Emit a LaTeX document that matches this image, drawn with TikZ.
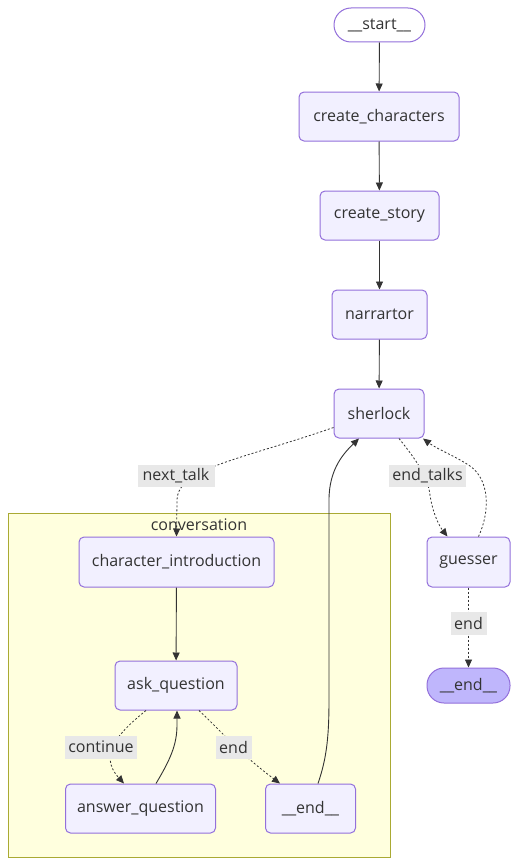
\documentclass[tikz,border=0pt]{standalone}
\usepackage{fontspec}
\setmainfont{Open Sans}
\usetikzlibrary{arrows.meta}
\definecolor{txt}{HTML}{333333}
\definecolor{nfill}{HTML}{F2F0FF}
\definecolor{nstroke}{HTML}{9370DB}
\definecolor{endfill}{HTML}{BFB6FC}
\definecolor{clfill}{HTML}{FFFFDE}
\definecolor{clstroke}{HTML}{AAAA33}
\definecolor{lblbg}{HTML}{E8E8E8}
\definecolor{edge}{HTML}{333333}
\begin{document}
\begin{tikzpicture}[x=1pt,y=1pt,
  font=\fontsize{16}{19}\selectfont, text=txt,
  box/.style={draw=nstroke, fill=nfill, line width=1pt, rounded corners=5pt, inner sep=0pt, align=center},
  pill/.style={draw=nstroke, line width=1pt, rounded corners=17pt, inner sep=0pt},
  lbl/.style={fill=lblbg, inner sep=0pt, text=txt},
  solidedge/.style={draw=edge, line width=0.9pt, -{Triangle[length=8pt,width=7pt]}},
  dotedge/.style={draw=edge, line width=0.8pt, dash pattern=on 2pt off 2pt, -{Triangle[length=8pt,width=7pt]}}
]
\useasboundingbox (0,0) rectangle (518,-867);
\fill[white] (0,0) rectangle (518,-867);

% cluster
\node[draw=clstroke, fill=clfill, line width=1pt, minimum width=382pt, minimum height=344pt, inner sep=0pt] (cluster) at (199,-685) {};
\node (cltitle) at (199,-524.5) {conversation};

% nodes
\node[pill, fill=white, minimum width=91pt, minimum height=34pt] (start) at (379.5,-25) {\_\_start\_\_};
\node[box, minimum width=160pt, minimum height=49pt] (cc) at (379,-116.5) {create\_characters};
\node[box, minimum width=119pt, minimum height=49pt] (cs) at (379.5,-215.5) {create\_story};
\node[box, minimum width=95pt, minimum height=49pt] (nar) at (379.5,-314.5) {narrartor};
\node[box, minimum width=90pt, minimum height=49pt] (sher) at (379,-413.5) {sherlock};
\node[box, minimum width=83pt, minimum height=50pt] (gue) at (468.5,-562) {guesser};
\node[pill, fill=endfill, minimum width=83pt, minimum height=35pt] (fend) at (468.5,-685.5) {\_\_end\_\_};
\node[box, minimum width=195pt, minimum height=50pt] (ci) at (176.5,-562) {character\_introduction};
\node[box, minimum width=122pt, minimum height=49pt] (ask) at (176,-685.5) {ask\_question};
\node[box, minimum width=150pt, minimum height=49pt] (ans) at (140.5,-808.5) {answer\_question};
\node[box, minimum width=90pt, minimum height=49pt] (iend) at (310.5,-808.5) {\_\_end\_\_};

% straight edges
\draw[solidedge] (start) -- (cc);
\draw[solidedge] (cc) -- (cs);
\draw[solidedge] (cs) -- (nar);
\draw[solidedge] (nar) -- (sher);
\draw[solidedge] (ci) -- (ask);
\draw[dotedge] (gue) -- (fend);

% curved edges
\draw[dotedge] ([yshift=11pt]sher.south west) .. controls (240,-460) and (178,-468) .. (177,-500) -- (ci.north);
\draw[dotedge] ([xshift=20pt]sher.south) .. controls (418,-462) and (428,-478) .. (430,-495) .. controls (433,-515) and (440,-527) .. ([xshift=-21pt]gue.north);
\draw[dotedge] ([xshift=10pt]gue.north) .. controls (490,-512) and (490,-480) .. (470,-466) .. controls (455,-456) and (437,-449) .. ([xshift=44pt]sher.south);
\draw[dotedge] ([xshift=-30pt]ask.south) .. controls (118,-733) and (98,-755) .. ([xshift=-16.5pt]ans.north);
\draw[solidedge] ([xshift=15.5pt]ans.north) .. controls (170,-760) and (177,-745) .. (177,-725) -- ([xshift=1pt]ask.south);
\draw[dotedge] ([xshift=23pt]ask.south) .. controls (222,-732) and (238,-752) .. ([xshift=-30.5pt]iend.north);
\draw[solidedge] ([xshift=7.5pt]iend.north) .. controls (326,-760) and (329,-740) .. (329,-700) -- (329,-500) .. controls (329,-468) and (345,-452) .. ([xshift=-20pt]sher.south);

% edge labels
\node[lbl, minimum width=77pt, minimum height=22pt] (l1) at (176,-476) {next\_talk};
\node[lbl, minimum width=77pt, minimum height=22pt] (l2) at (427.5,-476) {end\_talks};
\node[lbl, minimum width=36pt, minimum height=23pt] (l3) at (468.5,-623.5) {end};
\node[lbl, minimum width=72pt, minimum height=23pt] (l4) at (101,-747) {continue};
\node[lbl, minimum width=36pt, minimum height=23pt] (l5) at (233.5,-747) {end};
\end{tikzpicture}
\end{document}
